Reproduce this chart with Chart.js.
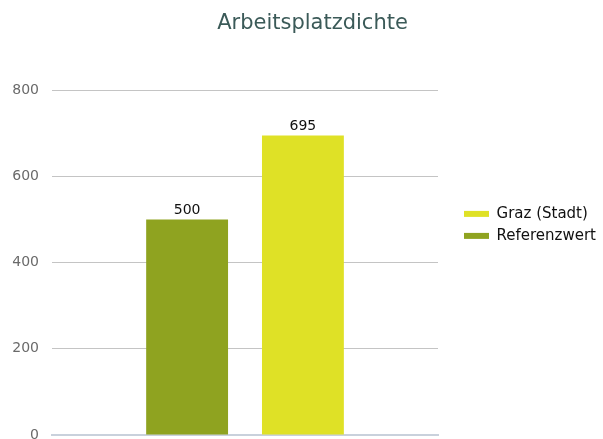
<!DOCTYPE html>
<html>
<head>
<meta charset="utf-8">
<script src="https://cdn.jsdelivr.net/npm/chart.js@4"></script>
<style>
  html, body { margin: 0; padding: 0; background: #fff; overflow: hidden; }
</style>
</head>
<body>
<canvas id="chart" width="603" height="439"></canvas>
<script>
// data
const categories = ["Arbeitsplatzdichte"];
const referenzwert = [500];
const grazStadt = [695];
const yTicks = [0, 200, 400, 600, 800];

const FONT = '"DejaVu Sans", sans-serif';

// draws the value above each bar
const valueLabels = {
  id: "valueLabels",
  afterDatasetsDraw(chart) {
    const ctx = chart.ctx;
    ctx.save();
    ctx.font = "14px " + FONT;
    ctx.fillStyle = "#111";
    ctx.textAlign = "center";
    ctx.textBaseline = "bottom";
    chart.data.datasets.forEach((ds, i) => {
      chart.getDatasetMeta(i).data.forEach((bar, j) => {
        ctx.fillText(ds.data[j], bar.x, bar.y - 2);
      });
    });
    ctx.restore();
  }
};

// let the y tick labels use the space left of the axis box (no clipping)
const widenYLabels = {
  id: "widenYLabels",
  afterLayout(chart) { chart.scales.y.left = 0; }
};

new Chart(document.getElementById("chart"), {
  type: "bar",
  data: {
    labels: categories,
    datasets: [
      { label: "Referenzwert", data: referenzwert, backgroundColor: "#8fa320", borderWidth: 0 },
      { label: "Graz (Stadt)", data: grazStadt, backgroundColor: "#dfe126", borderWidth: 0 }
    ]
  },
  options: {
    responsive: false,
    animation: false,
    categoryPercentage: 0.6,
    barPercentage: 0.707,
    layout: { padding: { left: 19, right: -3, top: 0, bottom: 4 } },
    scales: {
      x: {
        grid: { display: false, drawTicks: false },
        border: { display: true, color: "#c9d1dc", width: 2 },
        ticks: { display: false }
      },
      y: {
        min: yTicks[0],
        max: yTicks[yTicks.length - 1],
        afterBuildTicks(s) { s.ticks = yTicks.map(v => ({ value: v })); },
        grid: { color: "#c4c4c4", drawTicks: false },
        border: { display: false },
        ticks: { color: "#6a6a6a", font: { family: FONT, size: 14 }, padding: 13 },
        afterFit(s) { s.width = 33; s.paddingTop = 0; s.paddingBottom = 0; }
      },
      spacer: {
        position: "right",
        display: true,
        grid: { display: false, drawTicks: false },
        border: { display: false },
        ticks: { display: false },
        afterFit(s) { s.width = 19; }
      }
    },
    plugins: {
      title: {
        display: true,
        text: "Arbeitsplatzdichte",
        color: "#3b5a58",
        font: { family: FONT, size: 21, weight: "normal" },
        padding: { top: 11, bottom: 54 }
      },
      legend: {
        position: "right",
        align: "start",
        reverse: true,
        maxWidth: 200,
        title: { display: true, text: "", font: { size: 12 }, padding: { top: 185, bottom: 0 } },
        labels: {
          boxWidth: 25,
          boxHeight: 6,
          padding: 7,
          color: "#111",
          font: { family: FONT, size: 15 }
        }
      },
      tooltip: { enabled: false }
    }
  },
  plugins: [valueLabels, widenYLabels]
});
</script>
</body>
</html>
